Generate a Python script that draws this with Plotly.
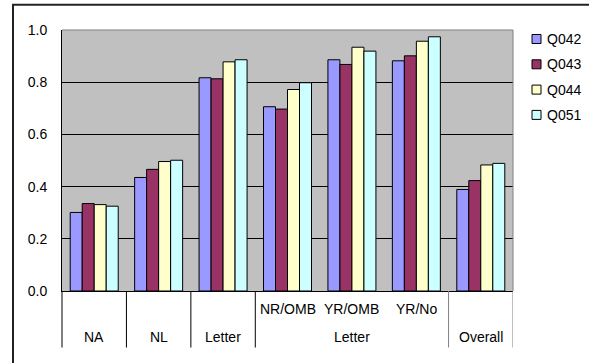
import plotly.graph_objects as go

# Category axis: inner labels (blank where a category has only one level) and outer labels
categories = ["NA", "NL", "Letter", "NR/OMB", "YR/OMB", "YR/No", "Overall"]
inner_labels = ["", "", "", "NR/OMB", "YR/OMB", "YR/No", ""]
outer_groups = [("NA", 0, 0), ("NL", 1, 1), ("Letter", 2, 2), ("Letter", 3, 5), ("Overall", 6, 6)]

series_names = ["Q042", "Q043", "Q044", "Q051"]
q042 = [0.301, 0.435, 0.817, 0.706, 0.886, 0.882, 0.389]
q043 = [0.335, 0.466, 0.813, 0.697, 0.868, 0.901, 0.423]
q044 = [0.331, 0.496, 0.878, 0.772, 0.934, 0.957, 0.483]
q051 = [0.325, 0.501, 0.886, 0.798, 0.919, 0.974, 0.489]
series_values = [q042, q043, q044, q051]
series_colors = ["#9999FF", "#993366", "#FFFFCC", "#CCFFFF"]

y_ticks = [0.0, 0.2, 0.4, 0.6, 0.8, 1.0]

FONT = "Arial, 'Liberation Sans', sans-serif"
FS = 14

fig = go.Figure()
for name, vals, col in zip(series_names, series_values, series_colors):
    fig.add_trace(go.Bar(
        x=categories, y=vals, name=name, showlegend=False,
        marker=dict(color=col, line=dict(color="black", width=1)),
    ))

W, H = 589, 363
ml, mr, mt, mb = 62, 76, 30, 72

fig.update_layout(
    width=W, height=H,
    margin=dict(l=ml, r=mr, t=mt, b=mb, pad=0, autoexpand=False),
    paper_bgcolor="white",
    plot_bgcolor="#C0C0C0",
    barmode="group", bargap=0.255, bargroupgap=0,
    font=dict(family=FONT, size=FS, color="black"),
    showlegend=False,
    xaxis=dict(type="category", categoryorder="array", categoryarray=categories,
               showticklabels=False, ticks="", showgrid=False, zeroline=False,
               showline=True, linecolor="black", linewidth=1,
               range=[-0.5, len(categories) - 0.5]),
    yaxis=dict(range=[0, 1], tickvals=y_ticks, tickformat=".1f",
               showgrid=True, gridcolor="black", gridwidth=1,
               zeroline=False, showline=True, linecolor="black", linewidth=1,
               ticks="", ticklabelstandoff=11, tickfont=dict(size=FS)),
)

plot_h = H - mt - mb
plot_w = W - ml - mr
label_bottom = -(56.5 / plot_h)


def px_x(px):
    return (px - ml) / plot_w


def px_y(py):
    return (H - mb - py) / plot_h


# Plot-area border on the top and right
fig.add_shape(type="line", xref="paper", yref="paper", x0=0, x1=1, y0=1, y1=1,
              line=dict(color="#808080", width=1))
fig.add_shape(type="line", xref="paper", yref="paper", x0=1, x1=1, y0=0, y1=1,
              line=dict(color="#808080", width=1))

# Left axis extended into the label rows
fig.add_shape(type="line", xref="paper", yref="paper", x0=0, x1=0, y0=label_bottom, y1=0,
              line=dict(color="black", width=1))

# Dividers between outer category groups
for label, start, end in outer_groups:
    xb = end + 0.5
    col = "#808080" if end >= len(categories) - 2 else "black"
    fig.add_shape(type="line", xref="x", yref="paper", x0=xb, x1=xb,
                  y0=label_bottom, y1=0, line=dict(color=col, width=1))

# Inner and outer category labels
for i, lab in enumerate(inner_labels):
    if lab:
        fig.add_annotation(x=categories[i], y=-(17.6 / plot_h), xref="x", yref="paper",
                           text=lab, showarrow=False, font=dict(size=FS),
                           xanchor="center", yanchor="middle")
for label, start, end in outer_groups:
    mid = categories[(start + end) // 2]
    fig.add_annotation(x=mid, y=-(46 / plot_h), xref="x", yref="paper",
                       text=label, showarrow=False, font=dict(size=FS),
                       xanchor="center", yanchor="middle")

# Legend: small outlined swatches with series names beside them
for k, (name, col) in enumerate(zip(series_names, series_colors)):
    cy = 39 + 25.3 * k
    fig.add_shape(type="rect", xref="paper", yref="paper",
                  x0=px_x(532), x1=px_x(541), y0=px_y(cy + 4.5), y1=px_y(cy - 4.5),
                  fillcolor=col, line=dict(color="black", width=1))
    fig.add_annotation(x=px_x(544.5), y=px_y(cy), xref="paper", yref="paper",
                       text=name, showarrow=False, font=dict(size=FS),
                       xanchor="left", yanchor="middle")

# Outer chart frame
fig.add_shape(type="rect", xref="paper", yref="paper",
              x0=px_x(13), x1=px_x(W + 5),
              y0=px_y(H + 5), y1=px_y(4.7),
              line=dict(color="#222222", width=2), layer="above")

fig.write_html("out.html")
